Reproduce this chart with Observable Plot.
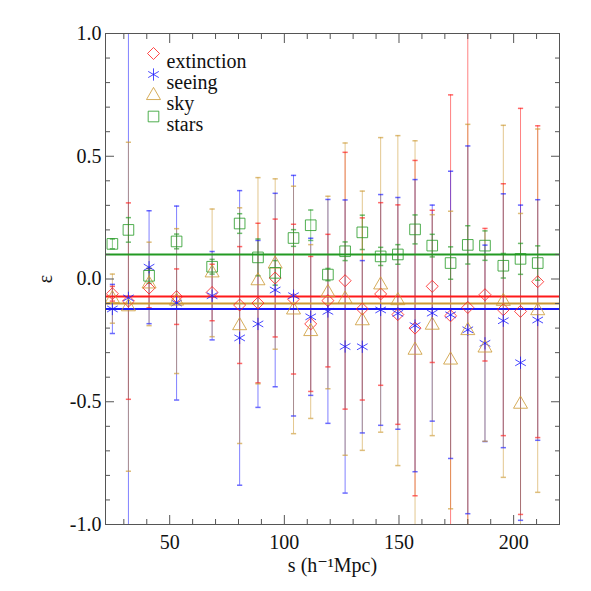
<!DOCTYPE html>
<html><head><meta charset="utf-8">
<script src="https://cdn.jsdelivr.net/npm/d3@7"></script>
<script src="https://cdn.jsdelivr.net/npm/@observablehq/plot@0.6"></script>
<style>html,body{margin:0;padding:0;background:#fff} svg text{font-family:"Liberation Serif","DejaVu Serif",serif !important;}</style>
</head><body><div id="chart"></div>
<script>
// separation s (h^-1 Mpc)
const s = [25, 32, 41, 53, 68.5, 80.5, 88.5, 96, 104, 111.5, 119, 126.5, 134, 142, 149.5, 157, 164.5, 172.5, 180, 187.5, 195.5, 203, 210.5];

const extinction    = [-0.06, -0.09, -0.037, -0.072, -0.055, -0.106, -0.098, 0.004, -0.082, -0.183, -0.088, -0.007, -0.122, -0.061, -0.145, -0.20, -0.03, -0.15, -0.116, -0.064, -0.125, -0.132, -0.011];
const extinctionErr = [0.03, 0.40, 0.08, 0.113, 0.115, 0.238, 0.325, 0.24, 0.305, 0.275, 0.27, 0.523, 0.371, 0.372, 0.447, 0.683, 0.31, 0.90, 1.2, 0.27, 0.513, 0.827, 0.635];

const seeing    = [-0.122, -0.077, 0.048, -0.098, -0.068, -0.24, -0.183, -0.045, -0.068, -0.154, -0.132, -0.275, -0.276, -0.126, -0.14, -0.19, -0.139, -0.146, -0.207, -0.262, -0.17, -0.341, -0.167];
const seeingErr = [0.10, 1.3, 0.23, 0.395, 0.18, 0.60, 0.34, 0.394, 0.49, 0.32, 0.456, 0.597, 0.351, 0.47, 0.472, 0.595, 0.44, 0.585, 0.749, 0.40, 0.517, 0.642, 0.49];

const sky    = [-0.08, -0.113, -0.02, -0.09, 0.025, -0.19, -0.007, 0.061, -0.126, -0.214, -0.055, -0.082, -0.17, -0.024, -0.088, -0.29, -0.188, -0.33, -0.21, -0.281, -0.091, -0.51, -0.129];
const skyErr = [0.10, 0.67, 0.17, 0.295, 0.26, 0.48, 0.42, 0.347, 0.504, 0.354, 0.392, 0.636, 0.528, 0.60, 0.672, 0.853, 0.45, 0.606, 0.84, 0.38, 0.717, 0.777, 0.74];

const stars    = [0.143, 0.20, 0.013, 0.153, 0.05, 0.226, 0.088, 0.025, 0.167, 0.219, 0.018, 0.113, 0.19, 0.092, 0.10, 0.202, 0.136, 0.065, 0.139, 0.136, 0.054, 0.082, 0.065];
const starsErr = [0.02, 0.05, 0.03, 0.03, 0.03, 0.04, 0.075, 0.05, 0.034, 0.062, 0.025, 0.038, 0.07, 0.037, 0.04, 0.059, 0.046, 0.066, 0.078, 0.06, 0.05, 0.063, 0.07];

// mean levels (horizontal lines)
const seriesNames = ["extinction", "seeing", "sky", "stars"];
const meanValues  = [-0.071, -0.122, -0.10, 0.10];
const seriesColors = ["#ff1a1a", "#1a1aff", "#cc9933", "#239a23"];
const seriesSymbols = ["diamond2", "asterisk", "triangle", "square"];
const seriesR = [5.4, 5.8, 5.2, 6.0];

const xMajor = [50, 100, 150, 200];
const xMinor = [30, 40, 60, 70, 80, 90, 110, 120, 130, 140, 160, 170, 180, 190, 210, 220];
const yMajor = [-1.0, -0.5, 0.0, 0.5, 1.0];
const yMinor = [-0.9, -0.8, -0.7, -0.6, -0.4, -0.3, -0.2, -0.1, 0.1, 0.2, 0.3, 0.4, 0.6, 0.7, 0.8, 0.9];

const values = [extinction, seeing, sky, stars];
const errors = [extinctionErr, seeingErr, skyErr, starsErr];
const rows = seriesNames.flatMap((name, k) => s.map((x, i) => ({
  series: name, s: x, v: values[k][i], lo: values[k][i] - errors[k][i], hi: values[k][i] + errors[k][i]
})));
const means = seriesNames.map((name, k) => ({series: name, v: meanValues[k]}));

const cap = {draw(ctx) { ctx.moveTo(-2.6, 0); ctx.lineTo(2.6, 0); }};
const font = "'Liberation Serif', 'DejaVu Serif', serif";
const axisColor = "#555";

const plot = Plot.plot({
  width: 591, height: 591,
  marginLeft: 105, marginRight: 32, marginTop: 33, marginBottom: 67,
  style: {fontFamily: font, fontSize: "20px", background: "#fff", color: "#111"},
  x: {domain: [22, 220]},
  y: {domain: [-1, 1]},
  color: {domain: seriesNames, range: seriesColors},
  symbol: {domain: seriesNames, range: seriesSymbols},
  marks: [
    Plot.ruleX(rows, {x: "s", y1: "lo", y2: "hi", stroke: "series", strokeOpacity: 0.55, strokeWidth: 1, clip: true}),
    Plot.dot(rows, {x: "s", y: "lo", symbol: cap, stroke: "series", fill: "none", strokeOpacity: 0.65, clip: true}),
    Plot.dot(rows, {x: "s", y: "hi", symbol: cap, stroke: "series", fill: "none", strokeOpacity: 0.65, clip: true}),
    Plot.ruleY(means, {y: "v", stroke: "series", strokeWidth: 2}),
    ...seriesNames.map((name, k) => Plot.dot(rows.filter(d => d.series === name), {
      x: "s", y: "v", symbol: "series", stroke: "series", fill: "none", r: seriesR[k], strokeWidth: 1, strokeOpacity: 0.8, clip: true
    })),
    // legend
    ...seriesNames.map((name, k) => Plot.dot([name], {
      frameAnchor: "top-left", dx: 48, dy: 20 + 21 * k, symbol: seriesSymbols[k], stroke: seriesColors[k], fill: "none", r: seriesR[k], strokeWidth: 1, strokeOpacity: 0.8
    })),
    ...seriesNames.map((name, k) => Plot.text([name], {
      frameAnchor: "top-left", dx: 61, dy: 20 + 21 * k, text: d => d, textAnchor: "start", fontSize: 20, fontFamily: font, fill: "#111"
    })),
    Plot.frame({stroke: axisColor, strokeWidth: 1}),
    // inward ticks on all four sides
    Plot.axisX(xMajor, {anchor: "bottom", tickSize: -9, stroke: axisColor, tickFormat: () => "", label: null}),
    Plot.axisX(xMinor, {anchor: "bottom", tickSize: -5, stroke: axisColor, tickFormat: () => "", label: null}),
    Plot.axisX(xMajor, {anchor: "top", tickSize: -9, stroke: axisColor, tickFormat: () => "", label: null}),
    Plot.axisX(xMinor, {anchor: "top", tickSize: -5, stroke: axisColor, tickFormat: () => "", label: null}),
    Plot.axisY(yMajor, {anchor: "left", tickSize: -9, stroke: axisColor, tickFormat: () => "", label: null}),
    Plot.axisY(yMinor, {anchor: "left", tickSize: -5, stroke: axisColor, tickFormat: () => "", label: null}),
    Plot.axisY(yMajor, {anchor: "right", tickSize: -9, stroke: axisColor, tickFormat: () => "", label: null}),
    Plot.axisY(yMinor, {anchor: "right", tickSize: -5, stroke: axisColor, tickFormat: () => "", label: null}),
    // tick labels and titles
    Plot.axisX(xMajor, {anchor: "bottom", tickSize: 0, tickPadding: 10, fontSize: 20, fontFamily: font, fill: "#111",
      label: "s (h⁻¹Mpc)", labelAnchor: "center", labelOffset: 47, labelArrow: "none"}),
    Plot.axisY(yMajor, {anchor: "left", tickSize: 0, tickPadding: 4, fontSize: 20, fontFamily: font, fill: "#111",
      tickFormat: d => d.toFixed(1), label: "ε", labelAnchor: "center", labelOffset: 68, labelArrow: "none"})
  ]
});
document.getElementById("chart").appendChild(plot);
</script>
</body></html>
